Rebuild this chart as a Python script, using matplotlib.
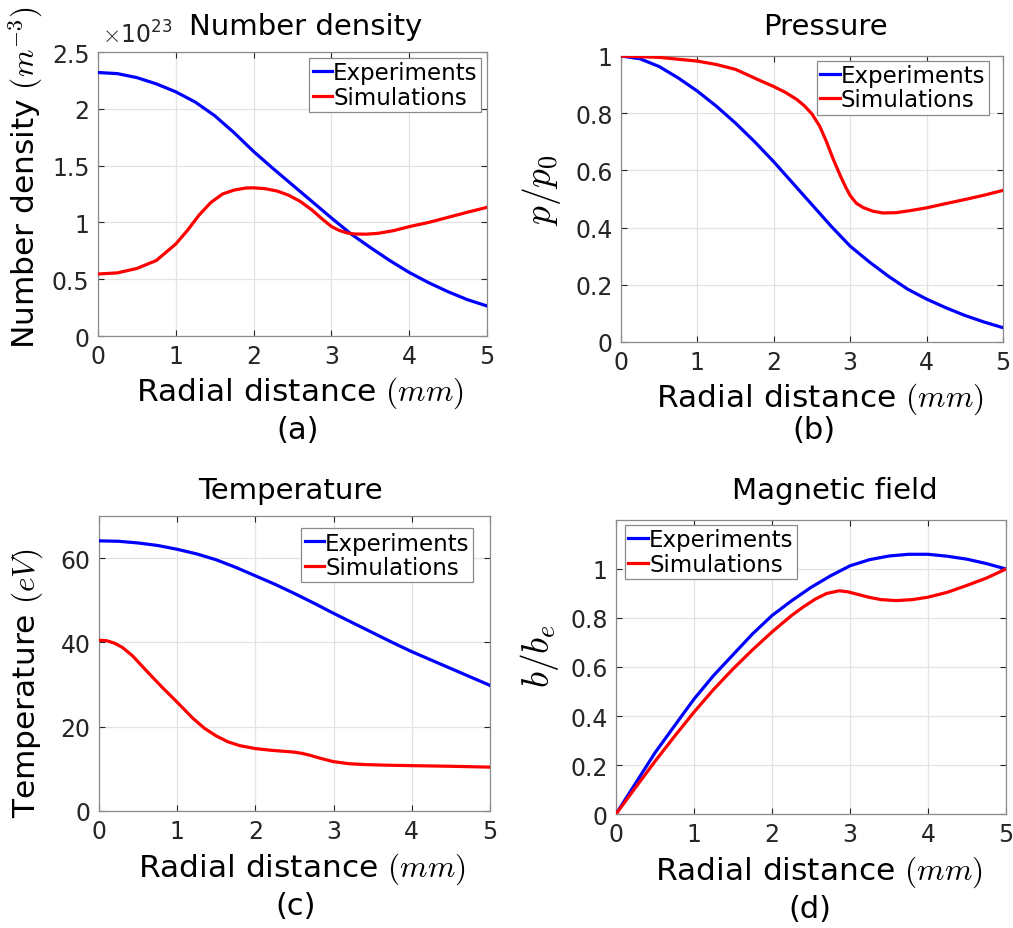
import numpy as np
import matplotlib
matplotlib.use('Agg')
import matplotlib.pyplot as plt

plt.rcParams['font.family'] = 'DejaVu Sans'
plt.rcParams['mathtext.fontset'] = 'cm'

# radial grid (mm) for the smoother curves
r_q = [0.0, 0.25, 0.5, 0.75, 1.0, 1.25, 1.5, 1.75, 2.0, 2.25, 2.5, 2.75, 3.0,
       3.25, 3.5, 3.75, 4.0, 4.25, 4.5, 4.75, 5.0]

# (a) number density, units of 1e23 m^-3
n_exp = [2.32, 2.31, 2.275, 2.22, 2.15, 2.06, 1.94, 1.79, 1.625, 1.475, 1.33,
         1.185, 1.04, 0.90, 0.78, 0.665, 0.56, 0.47, 0.39, 0.32, 0.265]
r_nsim = [0.0, 0.25, 0.5, 0.75, 1.0, 1.15, 1.3, 1.45, 1.6, 1.75, 1.9, 2.0, 2.15,
          2.3, 2.45, 2.6, 2.75, 2.9, 3.0, 3.1, 3.2, 3.3, 3.45, 3.6, 3.8, 4.0,
          4.25, 4.5, 4.75, 5.0]
n_sim = [0.546, 0.556, 0.595, 0.665, 0.81, 0.93, 1.065, 1.175, 1.25, 1.285, 1.303,
         1.305, 1.297, 1.277, 1.24, 1.185, 1.11, 1.02, 0.965, 0.93, 0.908, 0.898,
         0.897, 0.904, 0.928, 0.963, 1.0, 1.045, 1.09, 1.133]

# (b) pressure p/p0
p_exp = [1.0, 0.99, 0.963, 0.923, 0.877, 0.824, 0.765, 0.70, 0.63, 0.555, 0.48,
         0.405, 0.335, 0.28, 0.23, 0.185, 0.15, 0.12, 0.093, 0.07, 0.05]
r_psim = [0.0, 0.5, 1.0, 1.25, 1.5, 1.82, 2.0, 2.15, 2.3, 2.4, 2.5, 2.6, 2.69,
          2.78, 2.87, 2.94, 3.0, 3.08, 3.17, 3.3, 3.43, 3.6, 3.78, 4.0, 4.22,
          4.5, 4.75, 5.0]
p_sim = [1.0, 0.995, 0.982, 0.97, 0.953, 0.914, 0.893, 0.873, 0.848, 0.826,
         0.797, 0.755, 0.70, 0.638, 0.582, 0.542, 0.512, 0.485, 0.47, 0.457,
         0.451, 0.452, 0.459, 0.469, 0.482, 0.498, 0.513, 0.53]

# (c) temperature (eV)
t_exp = [64.1, 64.0, 63.6, 63.0, 62.1, 61.0, 59.6, 57.8, 55.8, 53.8, 51.6, 49.3,
         46.9, 44.6, 42.3, 40.0, 37.8, 35.8, 33.8, 31.8, 29.8]
r_tsim = [0.0, 0.1, 0.2, 0.3, 0.43, 0.6, 0.8, 1.0, 1.2, 1.35, 1.5, 1.65, 1.8,
          2.0, 2.2, 2.4, 2.5, 2.6, 2.7, 2.85, 3.0, 3.2, 3.41, 3.7, 4.0, 4.5, 5.0]
t_sim = [40.5, 40.4, 39.8, 38.8, 36.8, 33.4, 29.5, 25.8, 22.0, 19.6, 17.8, 16.4,
         15.5, 14.8, 14.4, 14.1, 13.95, 13.65, 13.2, 12.4, 11.7, 11.2, 11.0,
         10.85, 10.75, 10.6, 10.4]

# (d) magnetic field b/be
b_exp = [0.0, 0.125, 0.25, 0.36, 0.469, 0.565, 0.65, 0.735, 0.81, 0.87, 0.925,
         0.972, 1.013, 1.038, 1.053, 1.06, 1.06, 1.052, 1.04, 1.022, 1.0]
r_bsim = [0.0, 0.25, 0.5, 0.75, 1.0, 1.25, 1.5, 1.75, 2.0, 2.25, 2.4, 2.56, 2.7,
          2.86, 2.97, 3.08, 3.25, 3.4, 3.59, 3.8, 4.0, 4.25, 4.49, 4.75, 5.0]
b_sim = [0.0, 0.108, 0.215, 0.317, 0.416, 0.508, 0.592, 0.67, 0.743, 0.81,
         0.845, 0.878, 0.90, 0.911, 0.907, 0.898, 0.884, 0.875, 0.871, 0.875,
         0.885, 0.905, 0.932, 0.963, 1.0]

panels = [
    dict(pos=[0.0967, 0.6372, 0.3840, 0.3057], exp=(r_q, n_exp), sim=(r_nsim, n_sim),
         ylim=(0, 2.5), yticks=[0, 0.5, 1, 1.5, 2, 2.5], title='Number density',
         tx=0.535, tpad=13, ylabel='Number density $(m^{-3})$', ylsize=22.5,
         ylc=(-0.136, 0.56), leg=dict(loc='upper right', bbox_to_anchor=(0.985, 0.979)),
         tag='(a)', tagxy=(0.294, 0.537)),
    dict(pos=[0.6130, 0.6308, 0.3771, 0.3079], exp=(r_q, p_exp), sim=(r_psim, p_sim),
         ylim=(0, 1), yticks=[0, 0.2, 0.4, 0.6, 0.8, 1], title='Pressure',
         tx=0.534, tpad=16, ylabel='$p/p_0$', ylsize=27,
         ylc=(-0.152, 0.535), leg=dict(loc='upper right', bbox_to_anchor=(0.963, 0.983)),
         tag='(b)', tagxy=(0.803, 0.537)),
    dict(pos=[0.0977, 0.1260, 0.3860, 0.3175], exp=(r_q, t_exp), sim=(r_tsim, t_sim),
         ylim=(0, 70), yticks=[0, 20, 40, 60], title='Temperature',
         tx=0.49, tpad=13, ylabel='Temperature $(eV)$', ylsize=22.5,
         ylc=(-0.138, 0.437), leg=dict(loc='upper right', bbox_to_anchor=(0.957, 0.959)),
         tag='(c)', tagxy=(0.292, 0.0237)),
    dict(pos=[0.6081, 0.1227, 0.3850, 0.3165], exp=(r_q, b_exp), sim=(r_bsim, b_sim),
         ylim=(0, 1.2), yticks=[0, 0.2, 0.4, 0.6, 0.8, 1], title='Magnetic field',
         tx=0.56, tpad=16, ylabel='$b/b_e$', ylsize=27,
         ylc=(-0.141, 0.54), leg=dict(loc='upper left', bbox_to_anchor=(0.023, 0.983)),
         tag='(d)', tagxy=(0.799, 0.0215)),
]

fig = plt.figure(figsize=(10.13, 9.29), dpi=100)

for p in panels:
    ax = fig.add_axes(p['pos'])
    ax.plot(*p['exp'], color='#0000ff', lw=2.3, label='Experiments', zorder=3,
            solid_joinstyle='round')
    ax.plot(*p['sim'], color='#ff0000', lw=2.3, label='Simulations', zorder=3,
            solid_joinstyle='round')
    ax.set_xlim(0, 5)
    ax.set_ylim(*p['ylim'])
    ax.set_xticks(range(6))
    ax.set_yticks(p['yticks'])
    ax.set_yticklabels(['%g' % v for v in p['yticks']])
    ax.grid(True, color='#e3e3e3', lw=0.9)
    ax.set_axisbelow(True)
    ax.tick_params(direction='in', length=4, labelsize=17, colors='#262626',
                   pad=6, top=True, right=True)
    for s in ax.spines.values():
        s.set_color('#8a8a8a')
        s.set_linewidth(0.9)
    ax.set_title(p['title'], fontsize=21, x=p['tx'], pad=p['tpad'])
    ax.set_ylabel(p['ylabel'], fontsize=p['ylsize'])
    ax.yaxis.set_label_coords(*p['ylc'])
    ax.set_xlabel('Radial distance $(mm)$', fontsize=22.5)
    ax.xaxis.set_label_coords(0.52, -0.135)
    leg = ax.legend(fontsize=16.5, handlelength=0.85, handletextpad=0.05,
                    borderpad=0.15, labelspacing=0.05, borderaxespad=0,
                    fancybox=False, framealpha=1, edgecolor='#8a8a8a', **p['leg'])
    leg.get_frame().set_linewidth(0.9)
    fig.text(p['tagxy'][0], p['tagxy'][1], p['tag'], fontsize=22,
             ha='center', va='center')

fig.axes[0].text(0.01, 1.015, r'$\times\mathregular{10^{23}}$', fontsize=17,
                 color='#262626', transform=fig.axes[0].transAxes,
                 ha='left', va='bottom')

fig.savefig('out.png', dpi=100, facecolor='white')
